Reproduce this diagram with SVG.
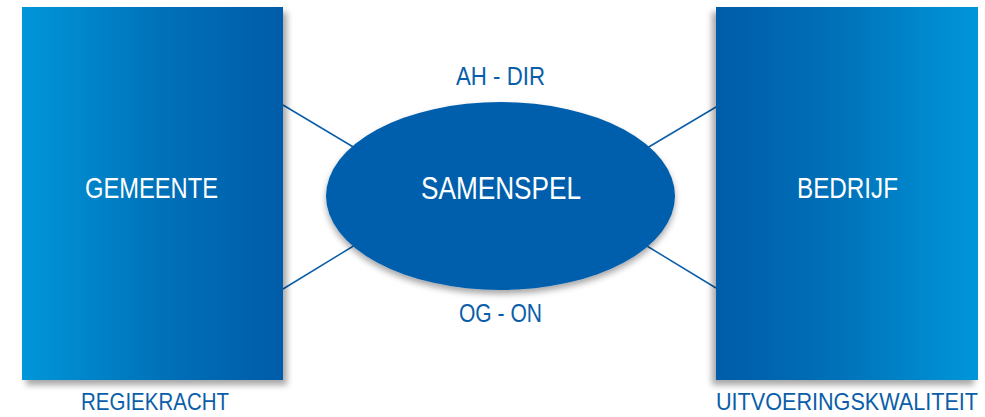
<svg xmlns="http://www.w3.org/2000/svg" width="985" height="417" viewBox="0 0 985 417">
<defs>
<linearGradient id="gL" x1="0" y1="0" x2="1" y2="0"><stop offset="0" stop-color="#0096d9"/><stop offset="0.55" stop-color="#0270b8"/><stop offset="1" stop-color="#005ca9"/></linearGradient>
<linearGradient id="gR" x1="0" y1="0" x2="1" y2="0"><stop offset="0" stop-color="#005ca9"/><stop offset="0.45" stop-color="#0270b8"/><stop offset="1" stop-color="#0096d9"/></linearGradient>
<filter id="shL" x="-10%" y="-10%" width="130%" height="130%"><feDropShadow dx="4" dy="5" stdDeviation="3" flood-color="#000" flood-opacity="0.35"/></filter>
<filter id="shR" x="-20%" y="-10%" width="130%" height="130%"><feDropShadow dx="-4" dy="5" stdDeviation="3" flood-color="#000" flood-opacity="0.35"/></filter>
<filter id="shE" x="-10%" y="-10%" width="120%" height="130%"><feDropShadow dx="0" dy="4" stdDeviation="3" flood-color="#000" flood-opacity="0.35"/></filter>
</defs>
<style>
.w{fill:#fff;font-family:"Liberation Sans",Arial,sans-serif;}
.b{fill:#0a5ea9;font-family:"Liberation Sans",Arial,sans-serif;}
.c{stroke:#0a5ea9;stroke-width:1.5;fill:none;}
</style>
<g id="connectors">
<line class="c" x1="283" y1="105" x2="360" y2="151"/>
<line class="c" x1="283" y1="289" x2="360" y2="242"/>
<line class="c" x1="716" y1="107" x2="642" y2="151"/>
<line class="c" x1="716" y1="288" x2="642" y2="243"/>
</g>
<g id="gemeente">
<rect x="22" y="7" width="261" height="373" fill="url(#gL)" filter="url(#shL)"/>
<text class="w" x="151.5" y="198" font-size="29" text-anchor="middle" textLength="133" lengthAdjust="spacingAndGlyphs">GEMEENTE</text>
<text class="b" x="155" y="409.5" font-size="24" text-anchor="middle" textLength="148" lengthAdjust="spacingAndGlyphs">REGIEKRACHT</text>
</g>
<g id="bedrijf">
<rect x="716" y="7" width="262" height="373" fill="url(#gR)" filter="url(#shR)"/>
<text class="w" x="847.5" y="198" font-size="29" text-anchor="middle" textLength="101" lengthAdjust="spacingAndGlyphs">BEDRIJF</text>
<text class="b" x="847" y="409.5" font-size="24" text-anchor="middle" textLength="262" lengthAdjust="spacingAndGlyphs">UITVOERINGSKWALITEIT</text>
</g>
<g id="samenspel">
<ellipse cx="500.5" cy="196" rx="174.5" ry="94" fill="#005fad" filter="url(#shE)"/>
<text class="w" x="501" y="199" font-size="32" text-anchor="middle" textLength="160" lengthAdjust="spacingAndGlyphs">SAMENSPEL</text>
</g>
<g id="labels">
<text class="b" x="500.5" y="85" font-size="25" text-anchor="middle" textLength="89" lengthAdjust="spacingAndGlyphs">AH - DIR</text>
<text class="b" x="500.5" y="322" font-size="25" text-anchor="middle" textLength="83" lengthAdjust="spacingAndGlyphs">OG - ON</text>
</g>
</svg>
